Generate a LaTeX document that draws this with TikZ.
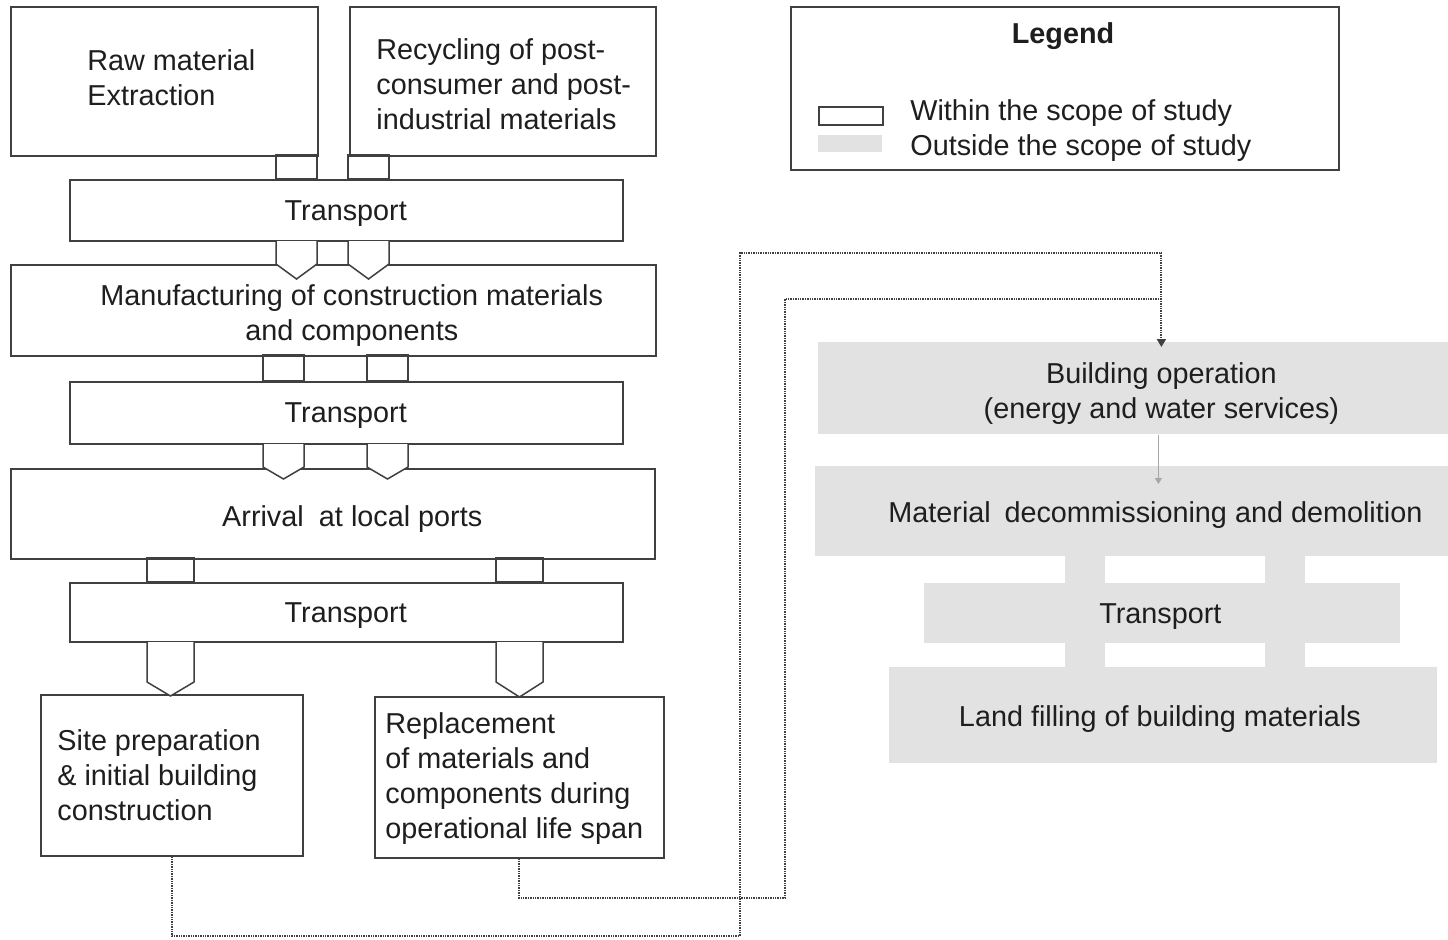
\documentclass[tikz,border=0pt]{standalone}
\usepackage{fontspec}
\setmainfont{Liberation Sans}
\usetikzlibrary{arrows.meta}
\definecolor{ln}{RGB}{64,64,64}
\definecolor{gfill}{RGB}{226,226,226}
\definecolor{tx}{RGB}{30,30,30}
\newcommand\pentarrow[5]{\filldraw[head] (#1,#3) -- (#1,#4) -- ({(#1+#2)/2},#5) -- (#2,#4) -- (#2,#3);}
\newcommand\linkbox[4]{\draw[conn] (#1,#3) rectangle (#2,#4);}
\begin{document}
\begin{tikzpicture}[x=0.5pt,y=-0.5pt, font=\fontsize{14.4}{17.5}\selectfont, text=tx,
 box/.style={draw=ln, line width=0.75pt, fill=white, inner sep=0pt, anchor=north west},
 gbox/.style={fill=gfill, draw=none, inner sep=0pt, anchor=north west},
 sz/.style 2 args={minimum width=#1*0.5pt, minimum height=#2*0.5pt},
 txt/.style={inner sep=0pt, align=center, yshift=-1.6pt},
 ltxt/.style={inner sep=0pt, align=left, anchor=west},
 conn/.style={draw=ln, line width=0.75pt},
 head/.style={draw=ln, line width=0.75pt, fill=white},
 dotline/.style={draw=ln, line width=1pt, dash pattern=on 0.7pt off 0.5pt},
]
\useasboundingbox (0,0) rectangle (1448,939);

% ---- left column boxes
\node[box, sz={307}{149}] (raw) at (10,6) {};
\node[ltxt] (rawt) at ([xshift=38.5pt,yshift=2pt]raw.west) {Raw material\\Extraction};
\node[box, sz={306}{149}] (rec) at (349,6) {};
\node[ltxt] (rect) at ([xshift=13.5pt,yshift=-1.25pt]rec.west) {Recycling of post-\\consumer and post-\\industrial materials};

\node[box, sz={553}{61}] (t1) at (69,179) {};
\node[txt] (t1t) at ([xshift=-0.25pt]t1.center) {Transport};

\node[box, sz={645}{91}] (man) at (10,264) {};
\node[txt] (mant) at ([xshift=9.25pt,yshift=-1pt]man.center) {Manufacturing of construction materials\\and components};

\node[box, sz={553}{62}] (t2) at (69,381) {};
\node[txt] (t2t) at ([xshift=-0.25pt]t2.center) {Transport};

\node[box, sz={644}{90}] (arr) at (10,468) {};
\node[txt] (arrt) at ([xshift=9.75pt,yshift=-1pt]arr.center) {Arrival\hspace{0.25em} at local ports};

\node[box, sz={553}{59}] (t3) at (69,582) {};
\node[txt] (t3t) at ([xshift=-0.25pt]t3.center) {Transport};

\node[box, sz={262}{161}] (site) at (40,694) {};
\node[ltxt] (sitet) at ([xshift=8.5pt]site.west) {Site preparation\\\& initial building\\construction};
\node[box, sz={289}{161}] (repl) at (374,696) {};
\node[ltxt] (replt) at ([xshift=5.5pt,yshift=-0.5pt]repl.west) {Replacement\\of materials and\\components during\\operational life span};

% ---- connectors, left column
\linkbox{276}{317}{155}{179}
\linkbox{348}{389}{155}{179}
\pentarrow{276}{317}{241}{264}{279}
\pentarrow{348}{389}{241}{264}{279}
\linkbox{263}{304}{355}{381}
\linkbox{367}{408}{355}{381}
\pentarrow{263}{304}{444}{467}{479}
\pentarrow{367}{408}{444}{467}{479}
\linkbox{147}{194}{558}{582}
\linkbox{496}{543}{558}{582}
\pentarrow{147}{194}{642}{682}{696}
\pentarrow{496}{543}{642}{682}{697}

% ---- right column (outside the scope)
\fill[gfill] (1065,550) rectangle (1105,590);
\fill[gfill] (1265,550) rectangle (1305,590);
\fill[gfill] (1065,640) rectangle (1105,670);
\fill[gfill] (1265,640) rectangle (1305,670);
\node[gbox, sz={686}{92}] (bop) at (818,342) {};
\node[txt] (bopt) at ([yshift=-1pt]bop.center) {Building operation\\(energy and water services)};
\node[gbox, sz={686}{90}] (dec) at (815,466) {};
\node[txt] (dect) at ([xshift=-1.5pt]dec.center) {Material\hspace{0.2em} decommissioning and demolition};
\node[gbox, sz={476}{60}] (t4) at (924,583) {};
\node[txt] (t4t) at ([xshift=-1pt]t4.center) {Transport};
\node[gbox, sz={548}{96}] (land) at (889,667) {};
\node[txt] (landt) at ([xshift=-1.75pt]land.center) {Land filling of building materials};

\draw[gray!70, line width=0.4pt, -{Triangle[length=3pt,width=3.5pt]}] ([xshift=-1.5pt]bop.south) -- ([xshift=-1.5pt,yshift=-9pt]dec.north -| bop.south);

% ---- dotted flows
\coordinate (j) at (bop.north |- 0,299);
\draw[dotline, -{Triangle[length=4pt,width=4.5pt]}] (site.south) |- (740,936) |- (bop.north |- 0,253) -- ([yshift=-2.5pt]bop.north);
\draw[dotline] (repl.south) |- (785,898) |- (j);

% ---- legend
\node[box, sz={548}{163}] (leg) at (790,6) {};
\node[txt, font=\fontsize{14.4}{17.5}\selectfont\bfseries] (legt) at (1063,33) {Legend};
\node[box, sz={64}{18}, line width=0.9pt] (lin) at (818,106) {};
\node[gbox, sz={64}{17}] (lout) at (818,135) {};
\node[ltxt, yshift=-1.5pt] (lint) at (910,110) {Within the scope of study};
\node[ltxt, yshift=-1.5pt] (loutt) at (910,145) {Outside the scope of study};
\end{tikzpicture}
\end{document}
